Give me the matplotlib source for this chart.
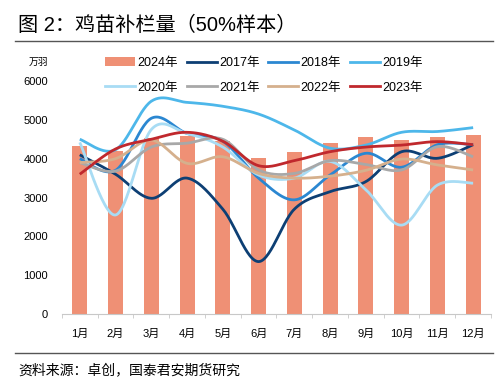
import numpy as np
import matplotlib
matplotlib.use("Agg")
from matplotlib import pyplot as plt
from matplotlib.lines import Line2D
from matplotlib.patches import Patch

plt.rcParams["font.family"] = ["Liberation Sans", "Noto Sans CJK SC"]

months = ["1月", "2月", "3月", "4月", "5月", "6月", "7月", "8月", "9月", "10月", "11月", "12月"]
y2024 = [4330, 4200, 4540, 4590, 4460, 4010, 4180, 4400, 4570, 4490, 4570, 4620]
y2017 = [4100, 3600, 2980, 3500, 2700, 1350, 2700, 3150, 3410, 4180, 4010, 4360]
y2018 = [4000, 3700, 5040, 4650, 4450, 3500, 2940, 3580, 4140, 3780, 4360, 4360]
y2019 = [4500, 4230, 5480, 5450, 5350, 5150, 4740, 4270, 4350, 4680, 4700, 4800]
y2020 = [4420, 2550, 4750, 4650, 4300, 3580, 3500, 3930, 3200, 2290, 3320, 3370]
y2021 = [3900, 3680, 4300, 4400, 4500, 3710, 3620, 3950, 3850, 3710, 4310, 4050]
y2022 = [3900, 4000, 4480, 3880, 4050, 3620, 3500, 3550, 3700, 3990, 3840, 3710]
y2023 = [3600, 4250, 4500, 4680, 4450, 3820, 3950, 4180, 4300, 4350, 4440, 4360]

series = [
    ("2017年", y2017, "#0d3f74"),
    ("2018年", y2018, "#2b87d1"),
    ("2019年", y2019, "#4db7ea"),
    ("2020年", y2020, "#a8dcf4"),
    ("2021年", y2021, "#a8a8a8"),
    ("2022年", y2022, "#d5b08d"),
    ("2023年", y2023, "#c0282d"),
]
bar_color = "#ef9075"


def smooth(y, n=30):
    # catmull-rom style curve through the points (like excel smoothed lines)
    y = np.asarray(y, float)
    x = np.arange(len(y), dtype=float)
    px = np.concatenate([[x[0]], x, [x[-1]]])
    py = np.concatenate([[y[0]], y, [y[-1]]])
    xs, ys = [], []
    t = np.linspace(0, 1, n)
    for i in range(1, len(px) - 2):
        p0, p1, p2, p3 = [np.array([px[j], py[j]]) for j in range(i - 1, i + 3)]
        c1 = p1 + (p2 - p0) / 6
        c2 = p2 - (p3 - p1) / 6
        pts = ((1 - t) ** 3)[:, None] * p1 + (3 * (1 - t) ** 2 * t)[:, None] * c1 \
            + (3 * (1 - t) * t ** 2)[:, None] * c2 + (t ** 3)[:, None] * p2
        xs.append(pts[:, 0])
        ys.append(pts[:, 1])
    return np.concatenate(xs), np.concatenate(ys)


fig = plt.figure(figsize=(4.99, 3.87), dpi=100)
ax = fig.add_axes([0.124, 0.1886, 0.860, 0.602])

x = np.arange(len(months))
ax.bar(x, y2024, width=0.42, color=bar_color, zorder=1)
for name, vals, col in series:
    sx, sy = smooth(vals)
    ax.plot(sx, sy, color=col, lw=2.0, zorder=2, solid_capstyle="butt")

ax.set_xlim(-0.5, len(months) - 0.5)
ax.set_ylim(0, 6000)
ax.set_yticks(range(0, 6001, 1000))
ax.set_xticks(x)
ax.set_xticklabels(months)
ax.set_xticks(np.arange(-0.5, len(months), 1.0), minor=True)
ax.tick_params(axis="x", which="major", length=0, labelsize=8, pad=11)
ax.tick_params(axis="x", which="minor", length=3, color="#c8c8c8", direction="out")
ax.tick_params(axis="y", length=0, labelsize=8, pad=10)
for s in ["top", "right", "left"]:
    ax.spines[s].set_visible(False)
ax.spines["bottom"].set_color("#c8c8c8")

handles = [Patch(facecolor=bar_color, edgecolor="none", label="2024年")]
handles += [Line2D([], [], color=c, lw=2, label=n) for n, v, c in series]
# legend fills column by column, so reorder to read row by row
order = [0, 4, 1, 5, 2, 6, 3, 7]
handles = [handles[i] for i in order]
fig.legend(handles=handles, ncol=4, loc="upper left", bbox_to_anchor=(0.2, 0.865),
           frameon=False, fontsize=9, handlelength=2.4, handletextpad=0.2,
           columnspacing=0.7, labelspacing=1.0, borderaxespad=0)

fig.text(0.077, 0.84, "万羽", fontsize=7, ha="center", va="center")
fig.text(0.036, 0.935, "图 2：鸡苗补栏量（50%样本）", fontsize=14.5, va="center")
fig.add_artist(Line2D([0.03, 0.988], [0.894, 0.894], color="#555555", lw=1.0))
fig.add_artist(Line2D([0.03, 0.988], [0.088, 0.088], color="#555555", lw=1.0))
fig.text(0.036, 0.043, "资料来源：卓创，国泰君安期货研究", fontsize=10, va="center")

fig.savefig("out.png", dpi=100)
